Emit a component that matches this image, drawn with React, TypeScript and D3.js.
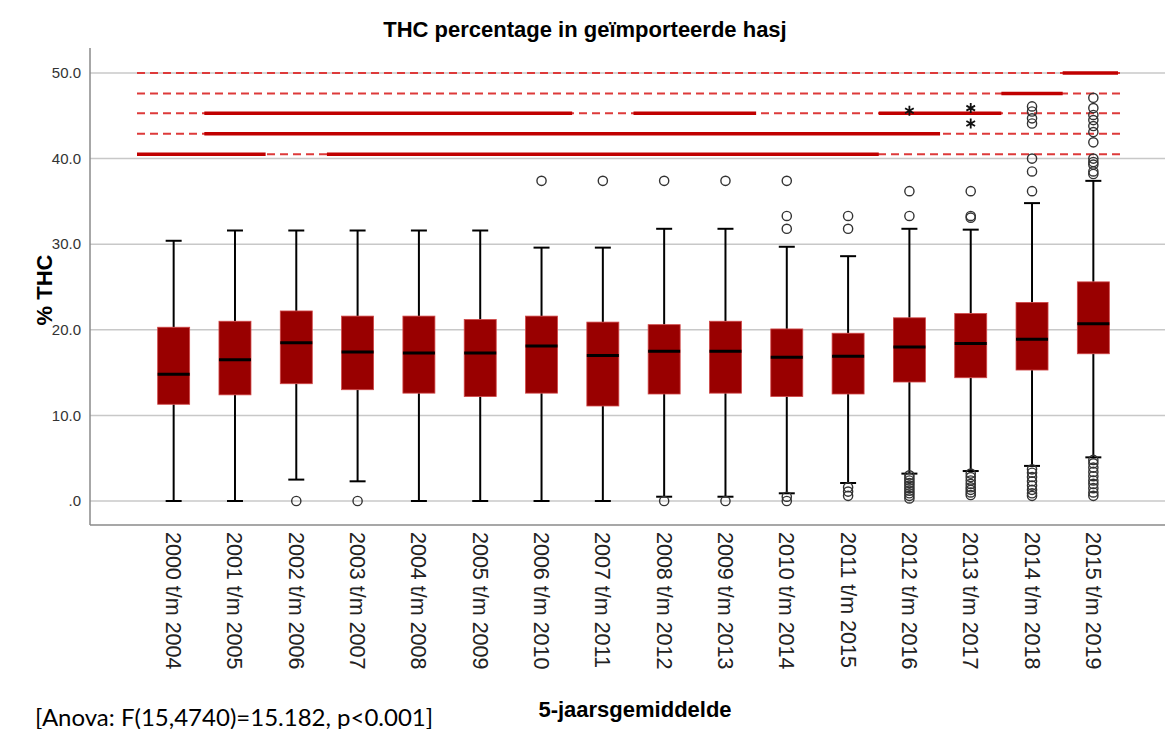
import React from "react";
import * as d3 from "d3";

const categories = [
  "2000 t/m 2004", "2001 t/m 2005", "2002 t/m 2006", "2003 t/m 2007",
  "2004 t/m 2008", "2005 t/m 2009", "2006 t/m 2010", "2007 t/m 2011",
  "2008 t/m 2012", "2009 t/m 2013", "2010 t/m 2014", "2011 t/m 2015",
  "2012 t/m 2016", "2013 t/m 2017", "2014 t/m 2018", "2015 t/m 2019",
];
const q1 = [11.3, 12.4, 13.7, 13.0, 12.6, 12.2, 12.6, 11.1, 12.5, 12.6, 12.2, 12.5, 13.9, 14.4, 15.3, 17.2];
const median = [14.8, 16.5, 18.5, 17.4, 17.3, 17.3, 18.1, 17.0, 17.5, 17.5, 16.8, 16.9, 18.0, 18.4, 18.9, 20.7];
const q3 = [20.3, 21.0, 22.2, 21.6, 21.6, 21.2, 21.6, 20.9, 20.6, 21.0, 20.1, 19.6, 21.4, 21.9, 23.2, 25.6];
const whiskerLow = [0, 0, 2.5, 2.3, 0, 0, 0, 0, 0.5, 0.5, 0.9, 2.1, 3.2, 3.5, 4.1, 5.1];
const whiskerHigh = [30.4, 31.6, 31.6, 31.6, 31.6, 31.6, 29.6, 29.6, 31.8, 31.8, 29.7, 28.6, 31.8, 31.7, 34.8, 37.4];

const outliersLow = [
  [], [], [0.0], [0.0], [], [], [], [], [0.0], [0.0], [0.5, 0.0], [1.6, 1.1, 0.6],
  [3.0, 2.7, 2.4, 2.1, 1.8, 1.5, 1.2, 0.9, 0.6, 0.3],
  [3.2, 2.8, 2.4, 2.0, 1.6, 1.3, 1.0, 0.7],
  [3.7, 3.3, 2.8, 2.3, 1.8, 1.3, 0.9, 0.6],
  [4.8, 4.4, 3.9, 3.4, 2.9, 2.4, 2.0, 1.5, 1.0, 0.6],
];
const outliersHigh = [
  [], [], [], [], [], [], [37.4], [37.4], [37.4], [37.4],
  [31.8, 33.3, 37.4], [31.8, 33.3], [33.3, 36.2], [33.1, 33.3, 36.2],
  [36.2, 38.5, 40.0, 44.1, 44.7, 45.5, 46.1],
  [38.2, 38.5, 39.3, 39.6, 40.0, 41.9, 43.1, 43.8, 44.5, 45.1, 45.9, 47.1],
];
const extremes = [[], [], [], [], [], [], [], [], [], [], [], [], [45.6], [45.9, 44.1], [], []];

const subsetLevels = [40.5, 42.9, 45.3, 47.6, 50.0];
const segLevel = [40.5, 40.5, 42.9, 45.3, 45.3, 45.3, 47.6, 50.0];
const segFrom = [0, 3, 1, 1, 8, 12, 14, 15];
const segTo = [1, 11, 12, 6, 9, 13, 14, 15];

const yTicks = [0, 10, 20, 30, 40, 50];

export default function App() {
  const W = 1165, H = 729;
  const x = d3.scaleBand<string>().domain(categories).range([143, 1124]).padding(0);
  const y = d3.scaleLinear().domain([0, 50]).range([501, 73]);
  const bw = x.bandwidth();
  const boxW = 32;
  const capW = 16;
  const cx = (i: number) => (x(categories[i]) as number) + bw / 2;
  const font = "'Liberation Sans', Arial, sans-serif";
  const fmt = (d: number) => (d === 0 ? ".0" : d.toFixed(1));
  const [r0, r1] = x.range();
  const star = d3.symbol().type(d3.symbolAsterisk).size(70)() as string;

  return (
    <svg width={W} height={H} style={{ position: "absolute", left: 0, top: 0, background: "#fff" }}>
      <rect x={0} y={0} width={W} height={H} fill="#fff" />
      {yTicks.map((t) => (
        <line key={"g" + t} x1={90} x2={W} y1={y(t)} y2={y(t)} stroke="#c8c8c8" strokeWidth={1.5} />
      ))}
      <line x1={90} x2={90} y1={48} y2={525} stroke="#8a8a8a" strokeWidth={1.5} />
      <line x1={90} x2={W} y1={525} y2={525} stroke="#8a8a8a" strokeWidth={1.5} />
      {yTicks.map((t) => (
        <text key={"t" + t} x={81} y={y(t)} dy="0.35em" textAnchor="end" fontFamily={font} fontSize={15} fill="#333">
          {fmt(t)}
        </text>
      ))}

      {subsetLevels.map((l) => (
        <line key={"d" + l} x1={r0 - 6} x2={r1} y1={y(l)} y2={y(l)} stroke="#dd3a3a" strokeWidth={2} strokeDasharray="8,5" />
      ))}
      {segLevel.map((l, i) => (
        <line
          key={"s" + i}
          x1={(x(categories[segFrom[i]]) as number) - (segFrom[i] === 0 ? 6 : 0)}
          x2={(x(categories[segTo[i]]) as number) + bw - (segTo[i] === categories.length - 1 ? 6 : 0)}
          y1={y(l)}
          y2={y(l)}
          stroke="#c00000"
          strokeWidth={3.5}
        />
      ))}

      {categories.map((c, i) => {
        const xc = cx(i);
        return (
          <g key={c}>
            <line x1={xc} x2={xc} y1={y(whiskerHigh[i])} y2={y(q3[i])} stroke="#000" strokeWidth={2} />
            <line x1={xc} x2={xc} y1={y(q1[i])} y2={y(whiskerLow[i])} stroke="#000" strokeWidth={2} />
            <line x1={xc - capW / 2} x2={xc + capW / 2} y1={y(whiskerHigh[i])} y2={y(whiskerHigh[i])} stroke="#000" strokeWidth={2} />
            <line x1={xc - capW / 2} x2={xc + capW / 2} y1={y(whiskerLow[i])} y2={y(whiskerLow[i])} stroke="#000" strokeWidth={2} />
            <rect x={xc - boxW / 2} y={y(q3[i])} width={boxW} height={y(q1[i]) - y(q3[i])} fill="#990000" stroke="#d04848" strokeWidth={0.8} />
            <line x1={xc - boxW / 2} x2={xc + boxW / 2} y1={y(median[i])} y2={y(median[i])} stroke="#000" strokeWidth={3} />
            {outliersLow[i].concat(outliersHigh[i]).map((v, j) => (
              <circle key={"o" + j} cx={xc} cy={y(v)} r={4.6} fill="none" stroke="#333" strokeWidth={1.4} />
            ))}
            {extremes[i].map((v, j) => (
              <path key={"e" + j} d={star} transform={`translate(${xc},${y(v)})`} fill="none" stroke="#111" strokeWidth={1.8} />
            ))}
          </g>
        );
      })}

      {categories.map((c, i) => (
        <text
          key={"xl" + c}
          transform={`translate(${cx(i)},532) rotate(90)`}
          dy="0.35em"
          fontFamily={font}
          fontSize={21.5}
          fill="#222"
        >
          {c}
        </text>
      ))}

      <text x={585} y={37} textAnchor="middle" fontFamily={font} fontWeight="bold" fontSize={22} fill="#000">
        THC percentage in geïmporteerde hasj
      </text>
      <text transform="translate(52,290) rotate(-90)" textAnchor="middle" fontFamily={font} fontWeight="bold" fontSize={22} fill="#000">
        % THC
      </text>
      <text x={635} y={717} textAnchor="middle" fontFamily={font} fontWeight="bold" fontSize={22} fill="#000">
        5-jaarsgemiddelde
      </text>
      <text x={35} y={726} fontFamily="Lato, 'Open Sans', sans-serif" fontSize={24} fill="#000">
        [Anova: F(15,4740)=15.182, p&lt;0.001]
      </text>
    </svg>
  );
}
